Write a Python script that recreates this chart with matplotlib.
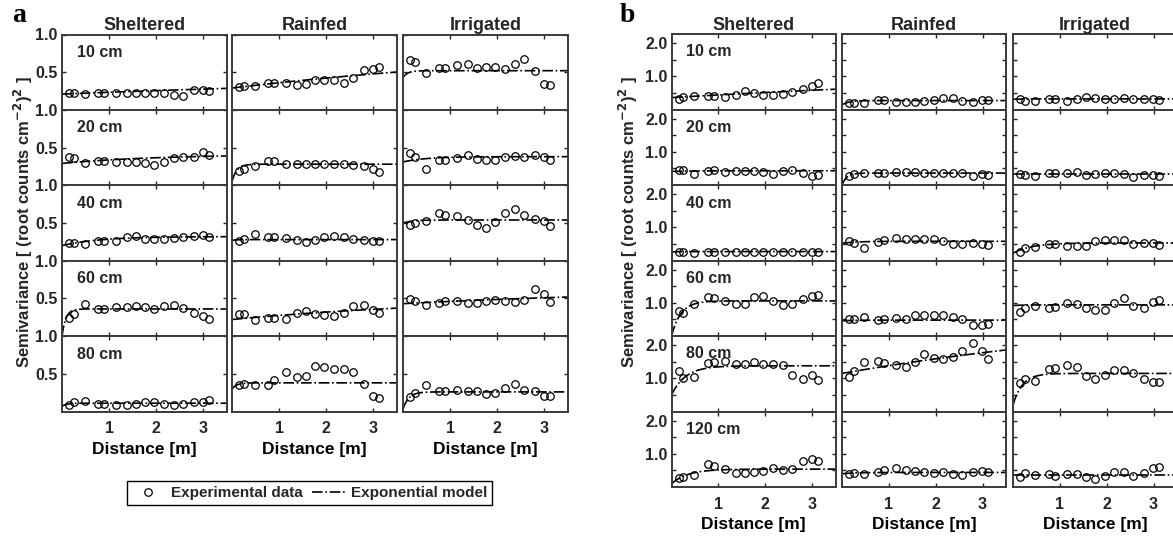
"""
Semivariograms of root counts by depth and water treatment
Panel a: first sampling, panel b: second sampling
"""

import matplotlib
matplotlib.use('Agg')  # no display
import matplotlib.pyplot as plt
from matplotlib.lines import Line2D
import numpy as np

# ---------------------------------------------------------------
# Data
# ---------------------------------------------------------------
LAGS = [0.15, 0.25, 0.48, 0.77, 0.90, 1.15, 1.37, 1.56, 1.76, 1.96,
        2.16, 2.37, 2.57, 2.80, 2.99, 3.12]

TREATMENTS = ['Sheltered', 'Rainfed', 'Irrigated']
DEPTHS_A = ['10 cm', '20 cm', '40 cm', '60 cm', '80 cm']
DEPTHS_B = ['10 cm', '20 cm', '40 cm', '60 cm', '80 cm', '120 cm']

# panel a, experimental semivariance (one row per depth)
A_SHELTERED = [
    [0.22, 0.22, 0.21, 0.23, 0.23, 0.22, 0.22, 0.22, 0.22, 0.22, 0.22, 0.20, 0.19, 0.26, 0.27, 0.25],
    [0.38, 0.36, 0.29, 0.32, 0.32, 0.31, 0.31, 0.31, 0.29, 0.27, 0.31, 0.36, 0.38, 0.38, 0.44, 0.40],
    [0.23, 0.24, 0.22, 0.26, 0.26, 0.26, 0.31, 0.33, 0.29, 0.29, 0.29, 0.30, 0.32, 0.33, 0.34, 0.32],
    [0.24, 0.29, 0.43, 0.36, 0.36, 0.39, 0.39, 0.40, 0.38, 0.36, 0.40, 0.41, 0.37, 0.30, 0.26, 0.23],
    [0.09, 0.12, 0.14, 0.10, 0.10, 0.08, 0.08, 0.10, 0.12, 0.12, 0.10, 0.09, 0.10, 0.12, 0.13, 0.15],
]
A_RAINFED = [
    [0.31, 0.32, 0.32, 0.36, 0.36, 0.36, 0.33, 0.34, 0.40, 0.40, 0.39, 0.36, 0.42, 0.53, 0.54, 0.57],
    [0.19, 0.22, 0.25, 0.32, 0.32, 0.28, 0.28, 0.28, 0.28, 0.28, 0.28, 0.28, 0.27, 0.26, 0.22, 0.17],
    [0.26, 0.29, 0.35, 0.31, 0.31, 0.30, 0.27, 0.25, 0.28, 0.31, 0.33, 0.31, 0.29, 0.27, 0.26, 0.26],
    [0.29, 0.29, 0.22, 0.24, 0.24, 0.23, 0.30, 0.33, 0.29, 0.28, 0.26, 0.30, 0.40, 0.41, 0.35, 0.31],
    [0.35, 0.36, 0.35, 0.35, 0.42, 0.53, 0.46, 0.47, 0.60, 0.59, 0.56, 0.56, 0.53, 0.36, 0.21, 0.18],
]
A_IRRIGATED = [
    [0.66, 0.64, 0.49, 0.55, 0.55, 0.60, 0.61, 0.55, 0.57, 0.57, 0.54, 0.61, 0.68, 0.51, 0.34, 0.33],
    [0.43, 0.38, 0.22, 0.34, 0.34, 0.36, 0.40, 0.35, 0.33, 0.34, 0.38, 0.39, 0.37, 0.40, 0.37, 0.34],
    [0.48, 0.50, 0.53, 0.63, 0.61, 0.59, 0.54, 0.48, 0.44, 0.51, 0.63, 0.69, 0.61, 0.55, 0.52, 0.46],
    [0.49, 0.47, 0.41, 0.44, 0.46, 0.46, 0.44, 0.44, 0.46, 0.48, 0.46, 0.45, 0.48, 0.62, 0.56, 0.45],
    [0.19, 0.25, 0.35, 0.27, 0.27, 0.28, 0.27, 0.27, 0.23, 0.24, 0.31, 0.36, 0.28, 0.27, 0.20, 0.20],
]

# panel b, experimental semivariance
B_SHELTERED = [
    [0.31, 0.37, 0.40, 0.42, 0.42, 0.37, 0.43, 0.56, 0.50, 0.43, 0.43, 0.48, 0.53, 0.62, 0.70, 0.81],
    [0.44, 0.45, 0.33, 0.43, 0.44, 0.40, 0.42, 0.42, 0.42, 0.38, 0.34, 0.43, 0.44, 0.37, 0.28, 0.31],
    [0.26, 0.27, 0.24, 0.27, 0.27, 0.25, 0.26, 0.26, 0.26, 0.26, 0.26, 0.26, 0.26, 0.27, 0.27, 0.27],
    [0.76, 0.70, 0.96, 1.18, 1.15, 1.06, 0.98, 0.98, 1.18, 1.22, 1.07, 0.93, 0.97, 1.12, 1.21, 1.23],
    [1.21, 1.02, 1.04, 1.46, 1.48, 1.54, 1.44, 1.44, 1.48, 1.42, 1.42, 1.40, 1.09, 0.99, 1.09, 0.96],
    [0.26, 0.29, 0.36, 0.69, 0.63, 0.53, 0.43, 0.41, 0.44, 0.47, 0.56, 0.52, 0.53, 0.78, 0.84, 0.79],
]
B_RAINFED = [
    [0.19, 0.20, 0.19, 0.28, 0.28, 0.24, 0.22, 0.22, 0.25, 0.28, 0.34, 0.36, 0.26, 0.22, 0.28, 0.30],
    [0.27, 0.33, 0.35, 0.35, 0.37, 0.40, 0.40, 0.38, 0.37, 0.37, 0.37, 0.37, 0.35, 0.28, 0.33, 0.30],
    [0.60, 0.53, 0.38, 0.57, 0.63, 0.69, 0.66, 0.66, 0.66, 0.64, 0.59, 0.50, 0.51, 0.52, 0.49, 0.46],
    [0.50, 0.51, 0.58, 0.47, 0.50, 0.55, 0.52, 0.63, 0.64, 0.64, 0.63, 0.58, 0.52, 0.34, 0.33, 0.35],
    [1.04, 1.22, 1.49, 1.54, 1.46, 1.40, 1.34, 1.48, 1.74, 1.61, 1.58, 1.64, 1.84, 2.08, 1.82, 1.58],
    [0.38, 0.41, 0.39, 0.46, 0.50, 0.56, 0.51, 0.48, 0.45, 0.42, 0.44, 0.38, 0.37, 0.45, 0.48, 0.45],
]
B_IRRIGATED = [
    [0.31, 0.26, 0.26, 0.31, 0.31, 0.26, 0.32, 0.38, 0.36, 0.33, 0.32, 0.34, 0.32, 0.32, 0.31, 0.28],
    [0.33, 0.30, 0.28, 0.37, 0.37, 0.37, 0.38, 0.30, 0.33, 0.35, 0.35, 0.33, 0.25, 0.30, 0.30, 0.27],
    [0.26, 0.37, 0.42, 0.49, 0.49, 0.43, 0.43, 0.43, 0.59, 0.61, 0.63, 0.61, 0.51, 0.53, 0.53, 0.46],
    [0.73, 0.85, 0.90, 0.85, 0.88, 1.00, 0.98, 0.86, 0.78, 0.80, 1.00, 1.15, 0.91, 0.85, 1.03, 1.10],
    [0.87, 0.97, 0.92, 1.29, 1.31, 1.41, 1.34, 1.06, 0.97, 1.09, 1.26, 1.26, 1.16, 0.97, 0.89, 0.89],
    [0.31, 0.41, 0.36, 0.38, 0.34, 0.38, 0.39, 0.31, 0.23, 0.33, 0.44, 0.44, 0.33, 0.41, 0.58, 0.61],
]

# fitted exponential models: (nugget, partial sill, range parameter)
A_SHELTERED_MODEL = [(0.21, 0.30, 12.0), (0.29, 0.12, 2.0), (0.20, 0.12, 0.8),
                     (0.00, 0.36, 0.08), (0.07, 0.04, 0.10)]
A_RAINFED_MODEL = [(0.29, 0.60, 8.0), (0.05, 0.23, 0.10), (0.27, 0.01, 0.10),
                   (0.22, 0.30, 5.0), (0.30, 0.08, 0.10)]
A_IRRIGATED_MODEL = [(0.43, 0.09, 0.10), (0.31, 0.07, 0.50), (0.50, 0.04, 0.20),
                     (0.43, 0.20, 6.0), (0.03, 0.23, 0.12)]
B_SHELTERED_MODEL = [(0.36, 1.00, 12.0), (0.41, 0.02, 0.50), (0.26, 0.01, 0.20),
                     (0.00, 1.06, 0.20), (0.50, 0.88, 0.30), (0.10, 0.44, 0.35)]
B_RAINFED_MODEL = [(0.14, 0.13, 0.15), (0.00, 0.36, 0.10), (0.52, 0.06, 0.30),
                   (0.46, 0.02, 0.30), (1.15, 2.00, 8.0), (0.40, 0.04, 0.30)]
B_IRRIGATED_MODEL = [(0.31, 0.01, 0.20), (0.33, 0.00, 0.20), (0.22, 0.31, 0.40),
                     (0.92, 0.02, 0.20), (0.20, 0.95, 0.20), (0.36, 0.00, 0.20)]

# ---------------------------------------------------------------
# Figure layout (pixel based, 1173 x 537)
# ---------------------------------------------------------------
W, H = 1173, 537
GREY = '#262626'
plt.rcParams['font.family'] = ['Liberation Sans', 'DejaVu Sans']
plt.rcParams['font.weight'] = 'bold'
plt.rcParams['text.color'] = GREY
plt.rcParams['xtick.color'] = GREY
plt.rcParams['ytick.color'] = GREY
plt.rcParams['mathtext.default'] = 'bf'

fig = plt.figure(figsize=(W / 100, H / 100), dpi=100)


def add_ax(left, top, width, height):
    return fig.add_axes([left / W, 1 - (top + height) / H, width / W, height / H])


def exp_model(h, nugget, psill, rng):
    return nugget + psill * (1 - np.exp(-h / rng))


def draw_panel(lefts, top0, row_h, width, depths, data, models, ylim, yticks, ylabels):
    h = np.linspace(0, 3.5, 300)
    for c, treat in enumerate(TREATMENTS):
        for r, depth in enumerate(depths):
            ax = add_ax(lefts[c], top0 + r * row_h, width, row_h)
            ax.plot(h, exp_model(h, *models[c][r]), color='black', ls='-.', lw=1.2)
            ax.plot(LAGS, data[c][r], 'o', mfc='none', mec='black', ms=5.4, mew=0.9)
            ax.set_xlim(0, 3.5)
            ax.set_ylim(*ylim)
            ax.set_xticks([1, 2, 3])
            ax.set_yticks(yticks)
            for s in ax.spines.values():
                s.set_linewidth(1.4)
                s.set_color('#3a3a3a')
            ax.tick_params(direction='in', top=True, right=True, length=3, width=1,
                           labelsize=11.5, pad=3)
            ax.tick_params(axis='x', pad=7)
            if c == 0:
                ax.set_yticklabels(ylabels)
                ax.text(15 / width, 1 - 18 / row_h, depth, transform=ax.transAxes,
                        fontsize=11.5, fontweight='bold', va='center', ha='left')
            else:
                ax.set_yticklabels([])
            if r == 0:
                ax.set_title(treat, fontsize=13, fontweight='bold', pad=3)
            if r == len(depths) - 1:
                ax.set_xticklabels(['1', '2', '3'])
                ax.set_xlabel('Distance [m]', fontsize=12.5, fontweight='bold', labelpad=4)
            else:
                ax.set_xticklabels([])


# panel a
draw_panel([62, 232, 403], 34.5, 75.4, 165, DEPTHS_A,
           [A_SHELTERED, A_RAINFED, A_IRRIGATED],
           [A_SHELTERED_MODEL, A_RAINFED_MODEL, A_IRRIGATED_MODEL],
           (0, 1.0), [0.5, 1.0], ['0.5', '1.0'])

# panel b
draw_panel([671.5, 842, 1013], 34, 75.5, 164, DEPTHS_B,
           [B_SHELTERED, B_RAINFED, B_IRRIGATED],
           [B_SHELTERED_MODEL, B_RAINFED_MODEL, B_IRRIGATED_MODEL],
           (0, 2.28), [0.5, 1.0, 1.5, 2.0], ['', '1.0', '', '2.0'])

# y labels and panel letters
ylab = r'Semivariance [ (root counts cm$^{-2}$)$^{2}$ ]'
fig.text(23 / W, 1 - 222 / H, ylab, rotation=90, fontsize=12, fontweight='bold',
         ha='center', va='center')
fig.text(628 / W, 1 - 222 / H, ylab, rotation=90, fontsize=12, fontweight='bold',
         ha='center', va='center')
fig.text(19 / W, 1 - 16 / H, 'a', fontsize=20, fontweight='bold', color='black',
         family='Liberation Serif', ha='center', va='center')
fig.text(627 / W, 1 - 16 / H, 'b', fontsize=20, fontweight='bold', color='black',
         family='Liberation Serif', ha='center', va='center')

# legend
handles = [Line2D([], [], ls='none', marker='o', mfc='none', mec='black', ms=5.4, mew=0.9),
           Line2D([], [], ls='-.', color='black', lw=1.2)]
leg = fig.legend(handles, ['Experimental data', 'Exponential model'], ncol=2,
                 loc='center', bbox_to_anchor=(309.5 / W, 1 - 493 / H),
                 fancybox=False, edgecolor='black', framealpha=1,
                 prop={'size': 11, 'weight': 'bold'}, handlelength=2.2,
                 handletextpad=0.4, columnspacing=0.6, borderpad=0.3)
leg.get_frame().set_linewidth(1.0)

plt.savefig('out.png', dpi=100)
plt.close()
